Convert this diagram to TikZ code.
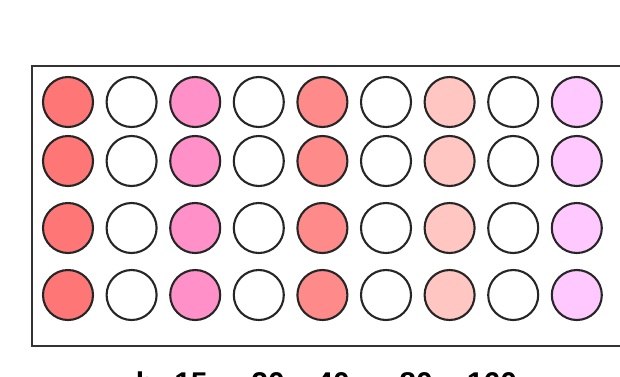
\documentclass[tikz,border=0pt]{standalone}
\usepackage{fontspec}
\setmainfont{Liberation Sans}
\begin{document}
\begin{tikzpicture}[x=1bp,y=-1bp,
  well/.style={circle,draw=black!85,line width=2.1bp,minimum size=50bp,inner sep=0pt},
  frame/.style={draw=black!80,line width=2.2bp},
  lbl/.style={font=\bfseries\fontsize{30bp}{30bp}\selectfont,anchor=base,inner sep=0pt}]
\definecolor{cA}{RGB}{255,118,118}
\definecolor{cB}{RGB}{255,145,200}
\definecolor{cC}{RGB}{255,138,138}
\definecolor{cD}{RGB}{255,198,194}
\definecolor{cE}{RGB}{255,200,255}
\useasboundingbox (0,0) rectangle (620,376);
\clip (0,0) rectangle (620,376);
\fill[white] (0,0) rectangle (620,376);
\node[frame,minimum width=620bp,minimum height=280bp,anchor=north west,inner sep=0pt] (box) at (31,65) {};
\foreach \r/\y in {1/102,2/161,3/228,4/295}{
  \foreach \c/\col in {1/cA,2/white,3/cB,4/white,5/cC,6/white,7/cD,8/white,9/cE}{
    \node[well,fill=\col] (w\r-\c) at ({68+(\c-1)*63.6},\y) {};
  }
}
\node[lbl] (l0) at (145,393) {b};
\node[lbl] (l1) at (191,393) {15};
\node[lbl] (l2) at (268,393) {20};
\node[lbl] (l3) at (333,393) {40};
\node[lbl] (l4) at (416,393) {80};
\node[lbl] (l5) at (492,393) {160};
\end{tikzpicture}
\end{document}
